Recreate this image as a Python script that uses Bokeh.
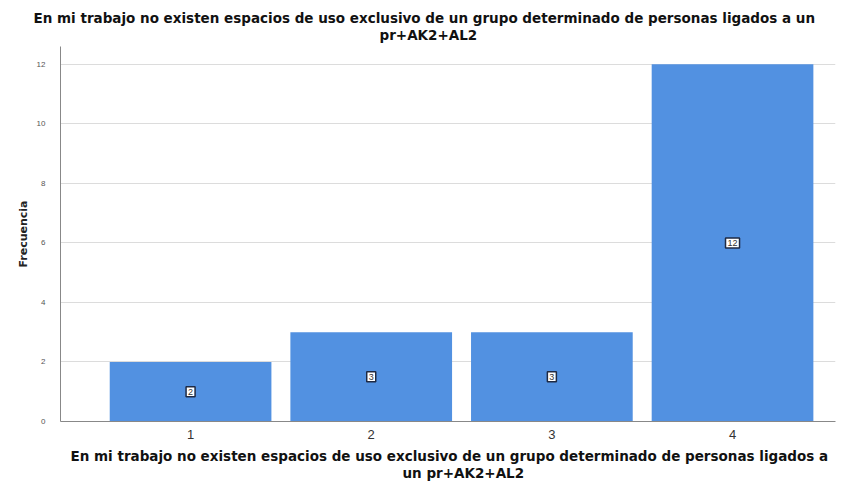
from bokeh.plotting import figure
from bokeh.models import ColumnDataSource, Title, FixedTicker, Range1d
from bokeh.core.properties import value
from bokeh.embed import file_html
from bokeh.resources import INLINE

categories = ["1", "2", "3", "4"]
positions = [1, 2, 3, 4]
frecuencia = [2, 3, 3, 12]
y_ticks = [0, 2, 4, 6, 8, 10, 12]

title_lines = ["En mi trabajo no existen espacios de uso exclusivo de un grupo determinado de personas ligados a un",
               "pr+AK2+AL2"]
xlabel_lines = ["En mi trabajo no existen espacios de uso exclusivo de un grupo determinado de personas ligados a",
                "un pr+AK2+AL2"]
ylabel = "Frecuencia"

src = ColumnDataSource(dict(x=positions, top=frecuencia, mid=[v / 2 for v in frecuencia],
                            lab=[str(v) for v in frecuencia]))

p = figure(width=837, height=481, output_backend="svg", toolbar_location=None,
           x_range=Range1d(0.28, 4.57), y_range=Range1d(0, 12.6),
           min_border_left=60, min_border_right=2, min_border_top=46, min_border_bottom=60)

p.vbar(x="x", top="top", width=0.895, source=src, fill_color="#5291E1", line_color=None)
p.text(x="x", y="mid", text="lab", source=src, text_align="center", text_baseline="middle",
       text_font=value("Liberation Sans"), text_font_size="9px", text_color="#333333",
       background_fill_color="white", border_line_color="#1E2A44", border_line_width=1.5,
       padding=2)

p.outline_line_color = None
p.xgrid.grid_line_color = None
p.ygrid.grid_line_color = "#DCDCDC"
p.ygrid.ticker = FixedTicker(ticks=y_ticks)

p.yaxis.ticker = FixedTicker(ticks=y_ticks)
p.yaxis.major_tick_line_color = None
p.yaxis.minor_tick_line_color = None
p.yaxis.major_tick_out = 0
p.yaxis.major_tick_in = 0
p.yaxis.axis_line_color = "#888888"
p.yaxis.major_label_text_font = "Liberation Sans"
p.yaxis.major_label_text_font_size = "8px"
p.yaxis.major_label_text_color = "#555555"
p.yaxis.major_label_standoff = 15
p.yaxis.axis_label = ylabel
p.yaxis.axis_label_text_font = "DejaVu Sans"
p.yaxis.axis_label_text_font_style = "bold"
p.yaxis.axis_label_text_font_size = "11px"
p.yaxis.axis_label_text_color = "#222222"
p.yaxis.axis_label_standoff = 4

p.xaxis.ticker = FixedTicker(ticks=positions)
p.xaxis.major_label_overrides = {pos: c for pos, c in zip(positions, categories)}
p.xaxis.major_tick_line_color = None
p.xaxis.minor_tick_line_color = None
p.xaxis.major_tick_out = 0
p.xaxis.major_tick_in = 0
p.xaxis.axis_line_color = "#888888"
p.xaxis.major_label_text_font = "Liberation Sans"
p.xaxis.major_label_text_font_size = "13px"
p.xaxis.major_label_text_color = "#333333"
p.xaxis.major_label_standoff = 8

# (offset from frame left, standoff)
xlabel_place = [(10, 8), (342, -10)]
title_place = [(-27, -10), (319, 8)]   # line 1, line 2

for line, (off, so) in zip(xlabel_lines, xlabel_place):
    p.add_layout(Title(text=line, align="left", offset=off, standoff=so, text_font="DejaVu Sans",
                       text_font_size="13.5px", text_font_style="bold", text_color="#111111"), "below")

for line, (off, so) in reversed(list(zip(title_lines, title_place))):
    p.add_layout(Title(text=line, align="left", offset=off, standoff=so, text_font="DejaVu Sans",
                       text_font_size="13.5px", text_font_style="bold", text_color="#111111"), "above")

open("out.html", "w").write(file_html(p, INLINE))
